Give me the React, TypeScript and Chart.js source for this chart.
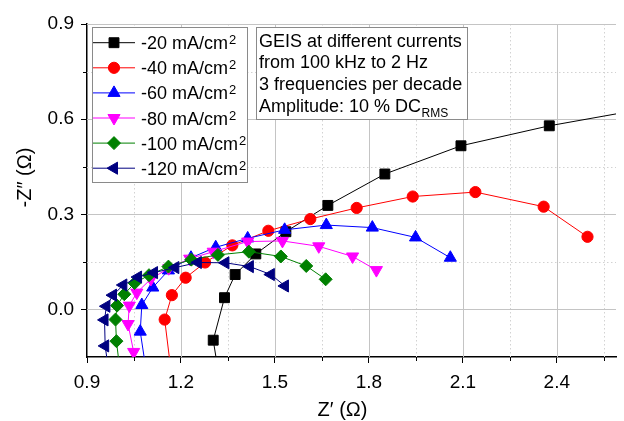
import React, { useEffect, useRef } from 'react';
import { Chart, registerables } from 'chart.js';
import { drawPoint } from 'chart.js/helpers';

Chart.register(...registerables);

// Current densities (mA/cm²) of each GEIS run
const currents = ['-20', '-40', '-60', '-80', '-100', '-120'];

// Z' (Ω) and -Z'' (Ω) of every run
const zRe20 = [1.320, 1.303, 1.339, 1.373, 1.439, 1.535, 1.669, 1.851, 2.094, 2.376, 2.700];
const zIm20 = [-0.200, -0.097, 0.037, 0.110, 0.175, 0.245, 0.328, 0.427, 0.516, 0.579, 0.636];

const zRe40 = [1.169, 1.148, 1.171, 1.215, 1.277, 1.364, 1.479, 1.613, 1.761, 1.940, 2.140, 2.358, 2.498];
const zIm40 = [-0.200, -0.032, 0.045, 0.100, 0.148, 0.202, 0.248, 0.285, 0.320, 0.356, 0.370, 0.324, 0.229];

const zRe60 = [1.090, 1.070, 1.075, 1.110, 1.160, 1.232, 1.311, 1.413, 1.531, 1.664, 1.811, 1.949, 2.060];
const zIm60 = [-0.200, -0.070, 0.014, 0.069, 0.123, 0.163, 0.196, 0.224, 0.251, 0.266, 0.258, 0.227, 0.163];

const zRe80 = [1.075, 1.049, 1.031, 1.035, 1.059, 1.104, 1.161, 1.228, 1.303, 1.413, 1.524, 1.640, 1.748, 1.824];
const zIm80 = [-0.250, -0.134, -0.046, 0.012, 0.053, 0.096, 0.130, 0.160, 0.182, 0.214, 0.216, 0.199, 0.167, 0.124];

const zRe100 = [1.006, 0.994, 0.991, 0.996, 1.019, 1.052, 1.098, 1.160, 1.233, 1.318, 1.417, 1.519, 1.600, 1.662];
const zIm100 = [-0.200, -0.100, -0.032, 0.012, 0.048, 0.083, 0.108, 0.135, 0.157, 0.172, 0.182, 0.167, 0.137, 0.095];

const zRe120 = [0.970, 0.958, 0.956, 0.962, 0.983, 1.016, 1.063, 1.114, 1.182, 1.254, 1.342, 1.420, 1.487, 1.532];
const zIm120 = [-0.200, -0.115, -0.033, 0.010, 0.045, 0.077, 0.102, 0.116, 0.132, 0.148, 0.147, 0.135, 0.110, 0.074];

const zReAll = [zRe20, zRe40, zRe60, zRe80, zRe100, zRe120];
const zImAll = [zIm20, zIm40, zIm60, zIm80, zIm100, zIm120];

// Axis ticks
const xMajor = [0.9, 1.2, 1.5, 1.8, 2.1, 2.4];
const xMinor = [1.05, 1.35, 1.65, 1.95, 2.25, 2.55];
const yMajor = [0.0, 0.3, 0.6, 0.9];
const yMinor = [-0.15, 0.15, 0.45, 0.75];
const xMin = 0.9;
const xMax = 2.589;
const yMin = -0.15;
const yMax = 0.9;

// Measurement notes
const noteLines = ['GEIS at different currents', 'from 100 kHz to 2 Hz', '3 frequencies per decade'];
const noteLast = 'Amplitude: 10 % DC';
const noteSub = 'RMS';

// Marker look of each run
const colors = ['#000000', '#ff0000', '#0000ff', '#ff00ff', '#008000', '#000080'];
const markers = ['rect', 'circle', 'triangle', 'triangle', 'rectRot', 'triangle'];
const markerRot = [0, 0, 0, 180, 0, 270];
const markerSize = [7, 5.6, 7, 7, 6.5, 7];

const FONT = '"Liberation Sans", Arial, sans-serif';

const gridPlugin = {
  id: 'nyquistGrid',
  beforeDatasetsDraw(chart: any) {
    const { ctx, chartArea: a, scales } = chart;
    const x = scales.x;
    const y = scales.y;
    ctx.save();
    ctx.lineWidth = 1;
    ctx.strokeStyle = '#d2d2d2';
    ctx.setLineDash([1.5, 2.5]);
    for (const v of xMinor) {
      const p = Math.round(x.getPixelForValue(v)) + 0.5;
      ctx.beginPath(); ctx.moveTo(p, a.top); ctx.lineTo(p, a.bottom); ctx.stroke();
    }
    for (const v of yMinor) {
      if (v <= yMin) continue;
      const p = Math.round(y.getPixelForValue(v)) + 0.5;
      ctx.beginPath(); ctx.moveTo(a.left, p); ctx.lineTo(a.right, p); ctx.stroke();
    }
    ctx.setLineDash([]);
    ctx.strokeStyle = '#c4c4c4';
    for (const v of xMajor) {
      if (v <= xMin) continue;
      const p = Math.round(x.getPixelForValue(v)) + 0.5;
      ctx.beginPath(); ctx.moveTo(p, a.top); ctx.lineTo(p, a.bottom); ctx.stroke();
    }
    for (const v of yMajor) {
      const p = Math.round(y.getPixelForValue(v)) + 0.5;
      ctx.beginPath(); ctx.moveTo(a.left, p); ctx.lineTo(a.right, p); ctx.stroke();
    }
    ctx.restore();
  },
};

const overlayPlugin = {
  id: 'overlay',
  afterDraw(chart: any) {
    const { ctx, chartArea: a, scales } = chart;
    const x = scales.x;
    const y = scales.y;
    ctx.save();

    // short minor tick marks
    ctx.strokeStyle = '#000';
    ctx.lineWidth = 1;
    for (const v of xMinor) {
      const p = Math.round(x.getPixelForValue(v)) + 0.5;
      ctx.beginPath(); ctx.moveTo(p, a.bottom); ctx.lineTo(p, a.bottom + 4); ctx.stroke();
    }
    for (const v of yMinor) {
      if (v <= yMin) continue;
      const p = Math.round(y.getPixelForValue(v)) + 0.5;
      ctx.beginPath(); ctx.moveTo(a.left - 4, p); ctx.lineTo(a.left, p); ctx.stroke();
    }

    // axis titles
    ctx.fillStyle = '#000';
    ctx.font = `20px ${FONT}`;
    ctx.textAlign = 'center';
    ctx.textBaseline = 'middle';
    ctx.fillText('Z\u2032 (\u03A9)', (a.left + a.right) / 2 - 9, 410);
    ctx.save();
    ctx.translate(25, (a.top + a.bottom) / 2 - 13);
    ctx.rotate(-Math.PI / 2);
    ctx.fillText('-Z\u2033 (\u03A9)', 0, 0);
    ctx.restore();

    // legend
    const lx = 92, ly = 27, lw = 155, lh = 155;
    ctx.fillStyle = '#fff';
    ctx.fillRect(lx, ly, lw, lh);
    ctx.strokeStyle = '#8a8a8a';
    ctx.strokeRect(lx + 0.5, ly + 0.5, lw, lh);
    currents.forEach((c, i) => {
      const ry = 42.7 + i * 25.1;
      ctx.strokeStyle = colors[i];
      ctx.fillStyle = colors[i];
      ctx.lineWidth = 1;
      ctx.beginPath(); ctx.moveTo(93, ry); ctx.lineTo(135, ry); ctx.stroke();
      drawPoint(ctx, { pointStyle: markers[i], radius: markerSize[i], rotation: markerRot[i], borderWidth: 1 }, 114, ry);
      ctx.fillStyle = '#000';
      ctx.textAlign = 'left';
      ctx.textBaseline = 'alphabetic';
      ctx.font = `18px ${FONT}`;
      const main = `${c} mA/cm`;
      ctx.fillText(main, 141, ry + 6.5);
      const w = ctx.measureText(main).width;
      ctx.font = `13px ${FONT}`;
      ctx.fillText('2', 141 + w + 1, ry + 1.5);
    });

    // measurement notes
    const bx = 256, by = 27, bw = 211, bh = 92;
    ctx.fillStyle = '#fff';
    ctx.fillRect(bx, by, bw, bh);
    ctx.strokeStyle = '#8a8a8a';
    ctx.strokeRect(bx + 0.5, by + 0.5, bw, bh);
    ctx.fillStyle = '#000';
    ctx.font = `18px ${FONT}`;
    ctx.textAlign = 'left';
    ctx.textBaseline = 'alphabetic';
    noteLines.forEach((t, i) => ctx.fillText(t, 259, 46.7 + i * 21.7));
    const lastY = 46.7 + 3 * 21.7;
    ctx.fillText(noteLast, 259, lastY);
    const lw2 = ctx.measureText(noteLast).width;
    ctx.font = `12px ${FONT}`;
    ctx.fillText(noteSub, 259 + lw2 + 0.5, lastY + 5);

    ctx.restore();
  },
};

export default function App() {
  const canvasRef = useRef<HTMLCanvasElement | null>(null);

  useEffect(() => {
    document.body.style.margin = '0';
    const canvas = canvasRef.current;
    if (!canvas) return;

    const datasets = currents.map((c, i) => ({
      label: `${c} mA/cm²`,
      data: zReAll[i].map((v, j) => ({ x: v, y: zImAll[i][j] })),
      showLine: true,
      borderColor: colors[i],
      backgroundColor: colors[i],
      borderWidth: 1,
      pointStyle: markers[i],
      pointRotation: markerRot[i],
      pointRadius: markerSize[i],
      pointBorderWidth: 1,
      pointBorderColor: colors[i],
      pointBackgroundColor: colors[i],
      tension: 0,
      clip: 0,
      order: currents.length - i,
    }));

    const tickFont = { family: FONT, size: 19 };

    const chart = new Chart(canvas, {
      type: 'scatter',
      data: { datasets },
      options: {
        animation: false,
        responsive: false,
        devicePixelRatio: 1,
        events: [],
        layout: { padding: { top: 24, left: 0, right: 0, bottom: 0 } },
        plugins: { legend: { display: false }, tooltip: { enabled: false } },
        scales: {
          x: {
            type: 'linear',
            min: xMin,
            max: xMax,
            afterBuildTicks: (s: any) => { s.ticks = xMajor.map((v) => ({ value: v })); },
            afterFit: (s: any) => { s.height = 64; },
            grid: { drawOnChartArea: false, drawTicks: true, tickLength: 6, tickColor: '#000', tickWidth: 1 },
            border: { display: true, color: '#000', width: 1.5 },
            ticks: {
              color: '#000',
              font: tickFont,
              padding: 8,
              maxRotation: 0,
              autoSkip: false,
              callback: (v: any) => Number(v).toFixed(1),
            },
          },
          y: {
            type: 'linear',
            min: yMin,
            max: yMax,
            afterBuildTicks: (s: any) => { s.ticks = yMajor.map((v) => ({ value: v })); },
            afterFit: (s: any) => { s.width = 87; },
            grid: { drawOnChartArea: false, drawTicks: true, tickLength: 6, tickColor: '#000', tickWidth: 1 },
            border: { display: true, color: '#000', width: 1.5 },
            ticks: {
              color: '#000',
              font: tickFont,
              padding: 7,
              autoSkip: false,
              callback: (v: any) => Number(v).toFixed(1),
            },
          },
        },
      },
      plugins: [gridPlugin, overlayPlugin],
    } as any);

    return () => chart.destroy();
  }, []);

  return (
    <div style={{ width: 624, height: 421, position: 'relative', overflow: 'hidden' }}>
      <canvas ref={canvasRef} width={624} height={421} style={{ display: 'block' }} />
    </div>
  );
}
